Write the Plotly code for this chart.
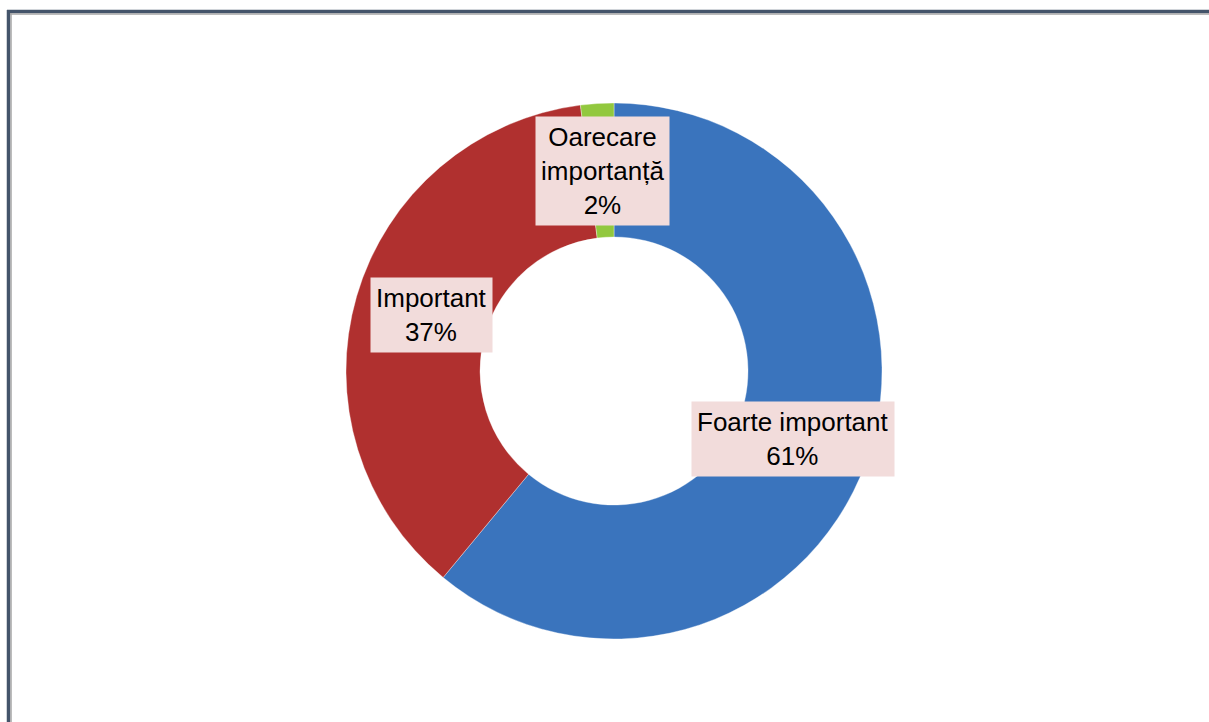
import math
import plotly.graph_objects as go

categories = ["Foarte important", "Important", "Oarecare importanță"]
values = [61, 37, 2]
label_lines = ["Foarte important", "Important", "Oarecare<br>importanță"]
colors = ["#3a74bd", "#b0302f", "#92c83e"]

W, H = 1209, 722
cx, cy, R = 614, 371, 268  # pixel centre and radius of the donut
lab_rx, lab_ry = 190, 200   # label ring (middle of the ring)

dom_x = [(cx - R) / W, (cx + R) / W]
dom_y = [(H - cy - R) / H, (H - cy + R) / H]

fig = go.Figure()
fig.add_trace(go.Pie(
    labels=categories,
    values=values,
    hole=0.5,
    sort=False,
    direction="clockwise",
    rotation=0,
    marker=dict(colors=colors, line=dict(color="rgba(255,255,255,0.35)", width=1)),
    textinfo="none",
    hoverinfo="label+percent",
    showlegend=False,
    domain=dict(x=dom_x, y=dom_y),
))

# data labels placed at the angular middle of each slice
total = sum(values)
cum = 0
for lab, v in zip(label_lines, values):
    mid = (cum + v / 2) / total * 2 * math.pi
    cum += v
    px = cx + lab_rx * math.sin(mid)
    py = cy - lab_ry * math.cos(mid)
    fig.add_annotation(
        x=px / W, y=(H - py) / H, xref="paper", yref="paper",
        xanchor="center", yanchor="middle",
        text=f"{lab}<br>{round(v / total * 100)}%",
        showarrow=False,
        font=dict(family="Liberation Sans, Arial, sans-serif", size=26, color="#000000"),
        bgcolor="#f2dcdb",
        borderpad=5,
        align="center",
    )

# frame lines (top and left), like the original screenshot
fig.add_shape(type="line", xref="paper", yref="paper", x0=7 / W, x1=1, y0=(H - 11.5) / H, y1=(H - 11.5) / H,
              line=dict(color="#44546a", width=3.5))
fig.add_shape(type="line", xref="paper", yref="paper", x0=10 / W, x1=1, y0=(H - 14) / H, y1=(H - 14) / H,
              line=dict(color="#a6a6a6", width=1.5))
fig.add_shape(type="line", xref="paper", yref="paper", x0=8.5 / W, x1=8.5 / W, y0=0, y1=(H - 10) / H,
              line=dict(color="#44546a", width=3.5))
fig.add_shape(type="line", xref="paper", yref="paper", x0=11 / W, x1=11 / W, y0=0, y1=(H - 13) / H,
              line=dict(color="#a6a6a6", width=1.5))

fig.update_layout(
    width=W, height=H,
    margin=dict(l=0, r=0, t=0, b=0),
    paper_bgcolor="#ffffff",
    plot_bgcolor="#ffffff",
)

fig.write_html("out.html", config={"displayModeBar": False},
               post_script="document.body.style.margin='0px';document.body.style.overflow='hidden';")
